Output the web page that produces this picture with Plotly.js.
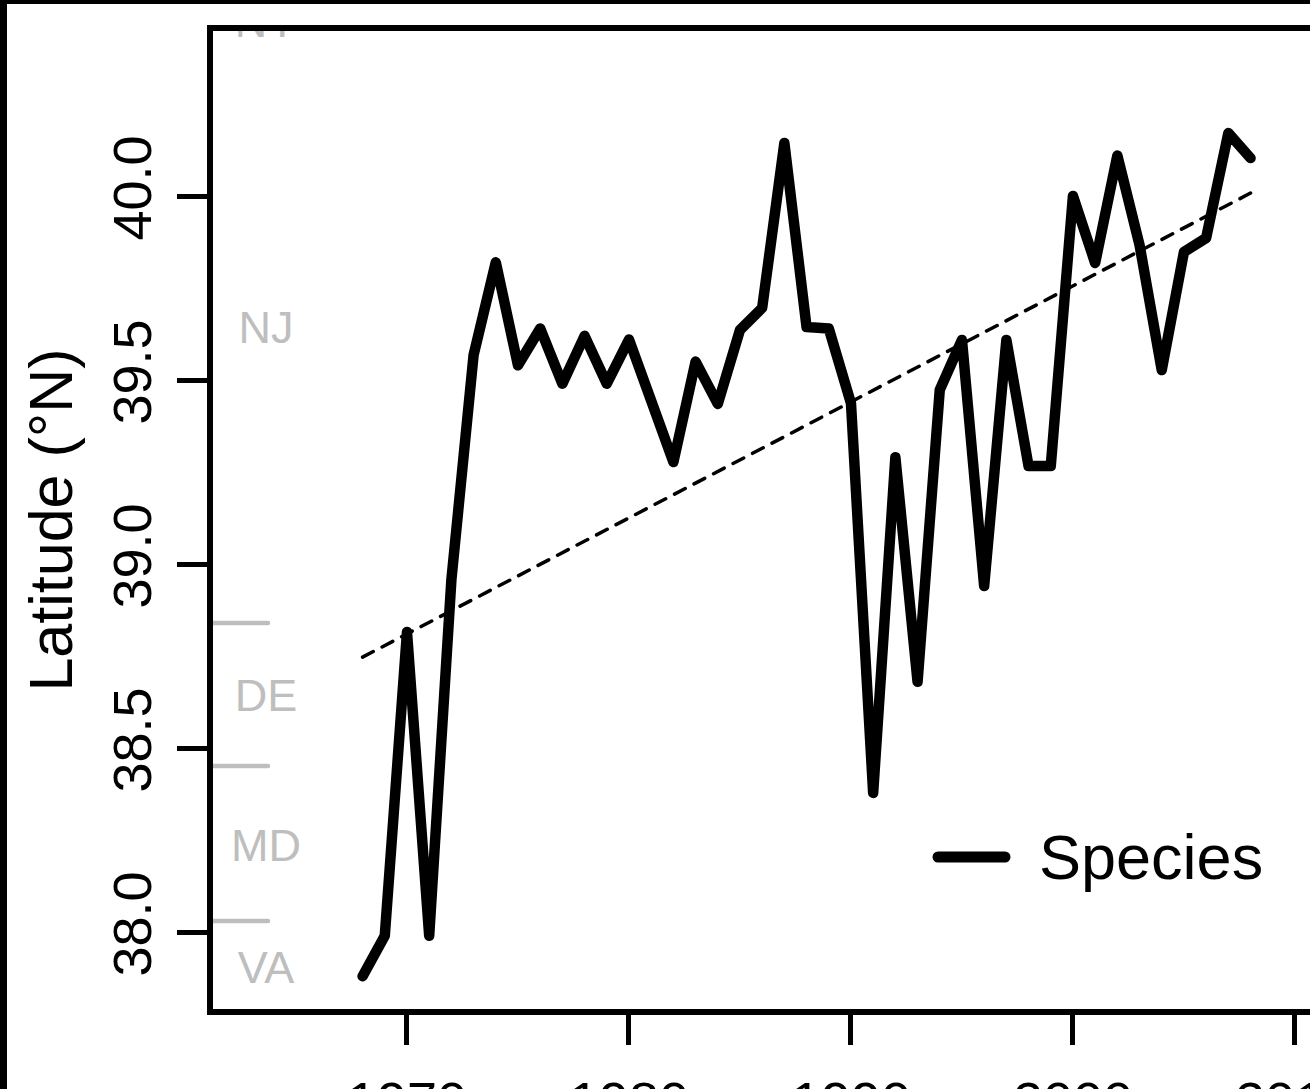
<!DOCTYPE html>
<html>
<head>
<meta charset="utf-8">
<script src="https://cdn.plot.ly/plotly-3.0.1.min.js"></script>
<style>
  html, body { margin: 0; padding: 0; overflow: hidden; background: #fff; }
  #chart { width: 1360px; height: 1150px; }
  #frame { position: absolute; left: 0; top: 0; width: 1400px; height: 1200px;
           border-left: 7px solid #000; border-top: 4px solid #000; pointer-events: none; }
  #chart .scatterlayer .js-line { stroke-linejoin: round !important; stroke-linecap: round !important; }
  #chart .layer-above path, #chart .shapelayer path { stroke-linecap: round !important; }
</style>
</head>
<body>
<div id="chart"></div>
<div id="frame"></div>
<script>
// ---- data ----
const years = [1968,1969,1970,1971,1972,1973,1974,1975,1976,1977,1978,1979,1980,1981,1982,1983,1984,1985,1986,1987,1988,1989,1990,1991,1992,1993,1994,1995,1996,1997,1998,1999,2000,2001,2002,2003,2004,2005,2006,2007,2008];
const latitude = [37.88,37.99,38.815,37.99,38.957,39.568,39.82,39.54,39.64,39.49,39.62,39.49,39.61,39.446,39.277,39.55,39.435,39.636,39.696,40.144,39.644,39.64,39.437,38.378,39.29,38.68,39.473,39.609,38.94,39.609,39.266,39.266,40.0,39.818,40.11,39.867,39.527,39.848,39.886,40.171,40.103];
const trendYears = [1968, 2008];
const trendLat = [38.747, 40.008];
const stateNames = ["VA","MD","DE","NJ","NY"];
const stateLabelLat = [37.892, 38.223, 38.631, 39.631, 40.463];
const stateBounds = [38.03, 38.451, 38.84];
const xTicks = [1970, 1980, 1990, 2000, 2010];
const yTicks = [38.0, 38.5, 39.0, 39.5, 40.0];
const seriesName = "Species";

const GREY = "#bebebe";
const boundX = [1961.261, 1963.74];
const labelX = 1963.65;

const traces = [];
stateBounds.forEach(b => {
  traces.push({
    x: boundX, y: [b, b], mode: "lines", showlegend: false, hoverinfo: "skip",
    line: { color: GREY, width: 4.5 }
  });
});
traces.push({
  x: stateNames.map(() => labelX), y: stateLabelLat, text: stateNames,
  mode: "text", cliponaxis: true, showlegend: false, hoverinfo: "skip",
  textfont: { family: "Liberation Sans, Arial, sans-serif", size: 45, color: GREY }
});
traces.push({
  x: trendYears, y: trendLat, mode: "lines", showlegend: false,
  line: { color: "#000", width: 3.5, dash: "12px,10px" }
});
traces.push({
  x: years, y: latitude, mode: "lines", name: seriesName, showlegend: false,
  line: { color: "#000", width: 10.5 }
});

const W = 1360, H = 1150;
const L = 213, T = 31, R = 20, B = H - 1009;

const layout = {
  width: W, height: H,
  margin: { l: L, r: R, t: T, b: B, pad: 0 },
  paper_bgcolor: "#fff", plot_bgcolor: "#fff",
  showlegend: false,
  font: { family: "Liberation Sans, Arial, sans-serif", color: "#000" },
  xaxis: {
    range: [1961.261, 2012.03], showgrid: false, zeroline: false,
    tickvals: xTicks, ticktext: xTicks.map(String),
    ticks: "outside", ticklen: 30, tickwidth: 5, tickcolor: "#000",
    showline: true, linewidth: 6, linecolor: "#000", mirror: true,
    tickfont: { size: 54, family: "Liberation Sans, Arial, sans-serif", color: "#000" },
    ticklabelstandoff: 10
  },
  yaxis: {
    range: [37.7908, 40.4484], showgrid: false, zeroline: false,
    tickvals: yTicks, ticktext: yTicks.map(v => v.toFixed(1)),
    ticks: "outside", ticklen: 30, tickwidth: 5, tickcolor: "#000",
    showline: true, linewidth: 6, linecolor: "#000", mirror: true,
    tickangle: -90,
    tickfont: { size: 54, family: "Liberation Sans, Arial, sans-serif", color: "#000" },
    ticklabelstandoff: 4,
    title: { text: "Latitude (°N)", standoff: 12,
             font: { size: 61, family: "Liberation Sans, Arial, sans-serif", color: "#000" } },
    automargin: false
  },
  shapes: [
    { type: "line", xref: "paper", yref: "paper",
      x0: (938 - L) / (W - L - R), x1: (1005 - L) / (W - L - R),
      y0: (1009 - 857) / (1009 - T), y1: (1009 - 857) / (1009 - T),
      line: { color: "#000", width: 11 } }
  ],
  annotations: [
    { xref: "paper", yref: "paper", x: (1037 - L) / (W - L - R), y: (1009 - 857) / (1009 - T),
      xanchor: "left", yanchor: "middle", showarrow: false, text: seriesName,
      font: { size: 63, family: "Liberation Sans, Arial, sans-serif", color: "#000" } }
  ]
};

Plotly.newPlot("chart", traces, layout, { staticPlot: true, displayModeBar: false });
</script>
</body>
</html>
